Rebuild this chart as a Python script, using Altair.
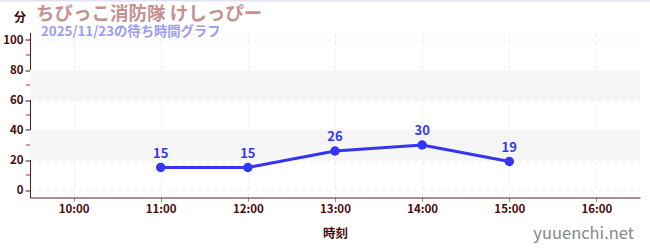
import altair as alt
import pandas as pd

hours = [11, 12, 13, 14, 15]
waits = [15, 15, 26, 30, 19]
x_ticks = [10, 11, 12, 13, 14, 15, 16]
y_ticks = [0, 20, 40, 60, 80, 100]
y_minor = [10, 30, 50, 70, 90]
band_lo = [20, 60]
band_hi = [40, 80]

title = "ちびっこ消防隊 けしっぴー"
subtitle = "2025/11/23の待ち時間グラフ"
FONT = "Noto Sans CJK JP"

df = pd.DataFrame({"h": hours, "w": waits})
bands = pd.DataFrame({"lo": band_lo, "hi": band_hi})
minor = pd.DataFrame({"v": y_minor})

xs = alt.Scale(domain=[9.5, 16.5], nice=False, zero=False)
ys = alt.Scale(domain=[-5, 105], nice=False, zero=False)

x_axis = alt.Axis(values=x_ticks, labelExpr="datum.value + ':00'", title="時刻",
                  grid=True, gridDash=[4, 4], gridColor="#ececec",
                  domainColor="#5a1a1a", tickColor="#999999", tickSize=4,
                  labelColor="#4a0a0a", labelFontWeight="bold", labelFontSize=11.5, labelFont=FONT,
                  titleColor="#4a0a0a", titleFontWeight="bold", titleFontSize=12.5, titleFont=FONT,
                  titlePadding=12, labelOverlap=False)
y_axis = alt.Axis(values=y_ticks, title=None, grid=True, gridDash=[4, 4], gridColor="#ececec",
                  domainColor="#5a1a1a", tickColor="#222222", tickSize=5, labelOverlap=False,
                  labelColor="#4a0a0a", labelFontWeight="bold", labelFontSize=11.5, labelFont=FONT)

band_layer = alt.Chart(bands).mark_rect(color="#f6f6f6").encode(
    y=alt.Y("lo:Q", scale=ys, axis=y_axis),
    y2="hi:Q",
    x=alt.value(0), x2=alt.value(610),
)

minor_layer = alt.Chart(minor).mark_rule(color="#cc2222", strokeWidth=1).encode(
    y=alt.Y("v:Q", scale=ys, axis=y_axis),
    x=alt.value(-4), x2=alt.value(0),
)

line = alt.Chart(df).mark_line(color="#3535f5", strokeWidth=3).encode(
    x=alt.X("h:Q", scale=xs, axis=x_axis),
    y=alt.Y("w:Q", scale=ys, axis=y_axis),
)
pts = alt.Chart(df).mark_circle(color="#3535f5", size=90, opacity=1).encode(
    x=alt.X("h:Q", scale=xs, axis=x_axis), y=alt.Y("w:Q", scale=ys, axis=y_axis),
)
labels = alt.Chart(df).mark_text(color="#3535f5", fontWeight="bold", fontSize=13, font=FONT,
                                 dy=-14, baseline="middle").encode(
    x=alt.X("h:Q", scale=xs, axis=x_axis), y=alt.Y("w:Q", scale=ys, axis=y_axis), text="w:Q",
)

one = pd.DataFrame({"a": [0]})
top_line = alt.Chart(one).mark_rule(color="#e2e2f6", strokeWidth=2).encode(
    x=alt.value(-30), x2=alt.value(620), y=alt.value(-32))
t_title = alt.Chart(one).mark_text(text=title, font=FONT, fontSize=18.5, fontWeight="bold",
                                   color="#c4918f", align="left", baseline="middle").encode(
    x=alt.value(6), y=alt.value(-19))
t_sub = alt.Chart(one).mark_text(text=subtitle, font=FONT, fontSize=13.3, fontWeight="bold",
                                 color="#9c9cf2", align="left", baseline="middle").encode(
    x=alt.value(11), y=alt.value(-1))
t_unit = alt.Chart(one).mark_text(text="分", font=FONT, fontSize=12, fontWeight="bold",
                                  color="#3a0a0a", align="center", baseline="middle").encode(
    x=alt.value(-10), y=alt.value(-15))
t_site = alt.Chart(one).mark_text(text="yuuenchi.net", font=FONT, fontSize=16.5,
                                  color="#888888", align="right", baseline="middle").encode(
    x=alt.value(604), y=alt.value(201))

chart = alt.layer(band_layer, minor_layer, line, pts, labels, top_line, t_title, t_sub, t_unit, t_site).properties(
    width=610, height=165,
    autosize=alt.AutoSizeParams(type="none"),
    padding={"left": 30, "top": 32.5, "right": 10, "bottom": 52.5},
    background="white",
).configure_view(stroke=None).configure_axis(labelOverlap=False)

chart.save("out.html", embed_options={"renderer": "svg", "actions": False})
